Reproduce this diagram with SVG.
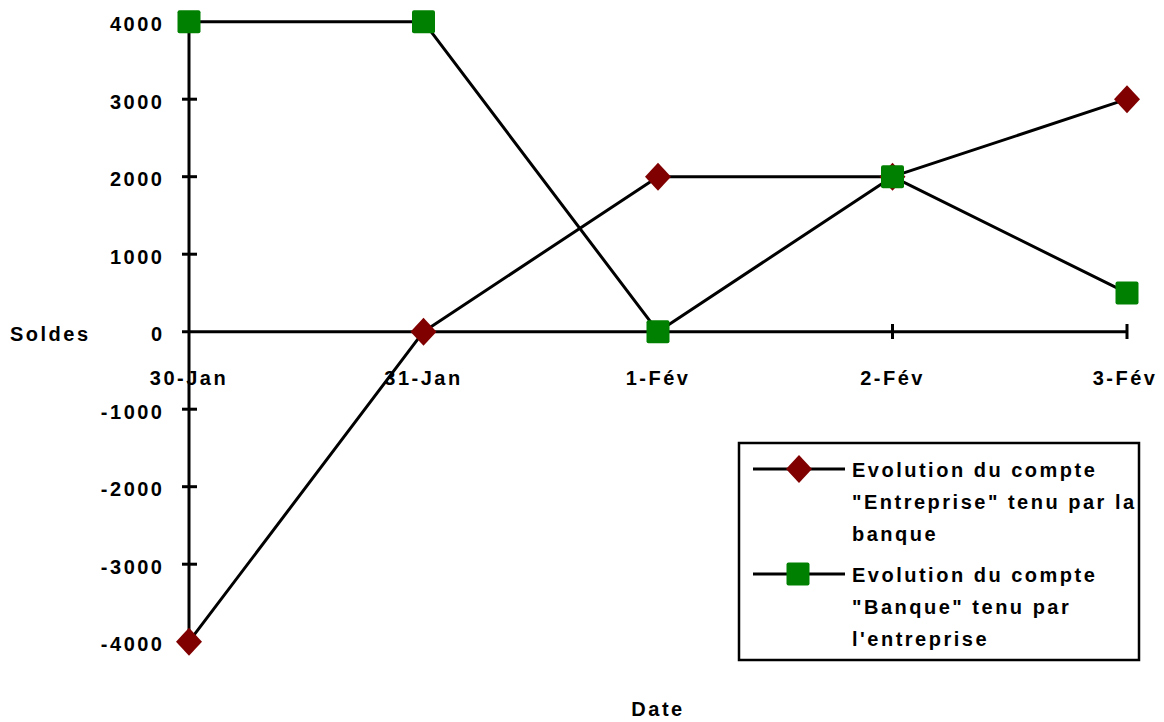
<svg xmlns="http://www.w3.org/2000/svg" width="1164" height="722" viewBox="0 0 1164 722">
<style>
text{font-family:"Liberation Sans",Arial,sans-serif;font-weight:bold;font-size:20px;letter-spacing:2.5px;fill:#000}
.ylab{text-anchor:end}
.xlab{text-anchor:middle}
.axis{stroke:#000;stroke-width:3;fill:none}
.series{stroke:#000;stroke-width:3;fill:none;stroke-linejoin:round}
.dia{fill:#800000}
.sq{fill:#008000}
</style>
<defs>
<path id="diamond" class="dia" d="M0,-14 L13,0 L0,14 L-13,0 Z"/>
<rect id="square" class="sq" x="-11.5" y="-11.5" width="23" height="23" rx="2"/>
</defs>
<rect width="1164" height="722" fill="#fff"/>
<g id="axes">
<line class="axis" x1="189" y1="21.7" x2="189" y2="641.7"/>
<line class="axis" x1="182" y1="331.7" x2="1127" y2="331.7"/>
<g class="axis">
<line x1="182" y1="99.2" x2="197" y2="99.2"/>
<line x1="182" y1="176.7" x2="197" y2="176.7"/>
<line x1="182" y1="254.2" x2="197" y2="254.2"/>
<line x1="182" y1="409.2" x2="197" y2="409.2"/>
<line x1="182" y1="486.7" x2="197" y2="486.7"/>
<line x1="182" y1="564.2" x2="197" y2="564.2"/>
<line x1="423.5" y1="324" x2="423.5" y2="339"/>
<line x1="658" y1="324" x2="658" y2="339"/>
<line x1="892.5" y1="324" x2="892.5" y2="339"/>
<line x1="1127" y1="324" x2="1127" y2="339"/>
</g>
</g>
<g id="y-labels">
<text class="ylab" x="164.5" y="31">4000</text>
<text class="ylab" x="164.5" y="108.7">3000</text>
<text class="ylab" x="164.5" y="186.2">2000</text>
<text class="ylab" x="164.5" y="263.7">1000</text>
<text class="ylab" x="164.5" y="341">0</text>
<text class="ylab" x="164.5" y="418.7">-1000</text>
<text class="ylab" x="164.5" y="496.2">-2000</text>
<text class="ylab" x="164.5" y="573.7">-3000</text>
<text class="ylab" x="164.5" y="651.2">-4000</text>
</g>
<g id="x-labels">
<text class="xlab" x="189" y="385">30-Jan</text>
<text class="xlab" x="423.5" y="385">31-Jan</text>
<text class="xlab" x="658" y="385">1-Fév</text>
<text class="xlab" x="892.5" y="385">2-Fév</text>
<text class="xlab" x="1125" y="385">3-Fév</text>
</g>
<g id="axis-titles">
<text x="10" y="341">Soldes</text>
<text class="xlab" x="658" y="716">Date</text>
</g>
<g id="connectors">
<polyline id="line-entreprise" class="series" points="189,641.7 423.5,331.7 658,176.7 892.5,176.7 1127,99.2"/>
<polyline id="line-banque" class="series" points="189,21.7 423.5,21.7 658,331.7 892.5,176.7 1127,292.95"/>
</g>
<g id="series-entreprise">
<use href="#diamond" x="189" y="641.7"/>
<use href="#diamond" x="423.5" y="331.7"/>
<use href="#diamond" x="658" y="176.7"/>
<use href="#diamond" x="892.5" y="176.7"/>
<use href="#diamond" x="1127" y="99.2"/>
</g>
<g id="series-banque">
<use href="#square" x="189" y="21.7"/>
<use href="#square" x="423.5" y="21.7"/>
<use href="#square" x="658" y="331.7"/>
<use href="#square" x="892.5" y="176.7"/>
<use href="#square" x="1127" y="292.95"/>
</g>
<g id="legend">
<rect x="739" y="443" width="400" height="217" fill="#fff" stroke="#000" stroke-width="2.5"/>
<line class="series" x1="753" y1="469" x2="845" y2="469"/>
<use href="#diamond" x="799" y="469"/>
<line class="series" x1="753" y1="574" x2="845" y2="574"/>
<use href="#square" x="798" y="574"/>
<text x="852" y="477">Evolution du compte</text>
<text x="852" y="509.3">"Entreprise" tenu par la</text>
<text x="852" y="540.7">banque</text>
<text x="852" y="582">Evolution du compte</text>
<text x="852" y="614.3">"Banque" tenu par</text>
<text x="852" y="645.7">l'entreprise</text>
</g>
</svg>
